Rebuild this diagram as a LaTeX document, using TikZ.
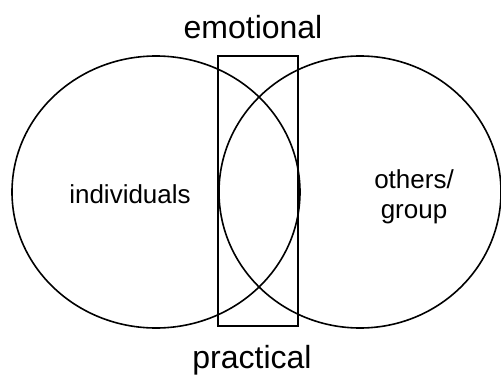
\documentclass[tikz,border=0pt]{standalone}
\usepackage{fontspec}
\setmainfont{Liberation Sans}
\tikzset{
  outline/.style={line width=1.6pt, black},
  headlabel/.style={font=\fontsize{32}{36}\selectfont, inner sep=0pt},
  setlabel/.style={font=\fontsize{26}{30}\selectfont, inner sep=0pt, align=center}
}
\begin{document}
\begin{tikzpicture}[x=1pt, y=-1pt]
    \useasboundingbox (0,0) rectangle (501,375);
    % the two sets
    \draw[outline] (156,192) ellipse [x radius=144, y radius=136];
    \draw[outline] (360,192) ellipse [x radius=141, y radius=136];
    % the overlap band
    \draw[outline] (218,56) rectangle (298,326);
    \node[headlabel, anchor=base] (emotional) at (253,38) {emotional};
    \node[headlabel, anchor=base] (practical) at (252,368) {practical};
    \node[setlabel, anchor=base] (individuals) at (130,203) {individuals};
    \node[setlabel, anchor=base] (others) at (414,218) {others/\\group};
  \end{tikzpicture}
\end{document}
